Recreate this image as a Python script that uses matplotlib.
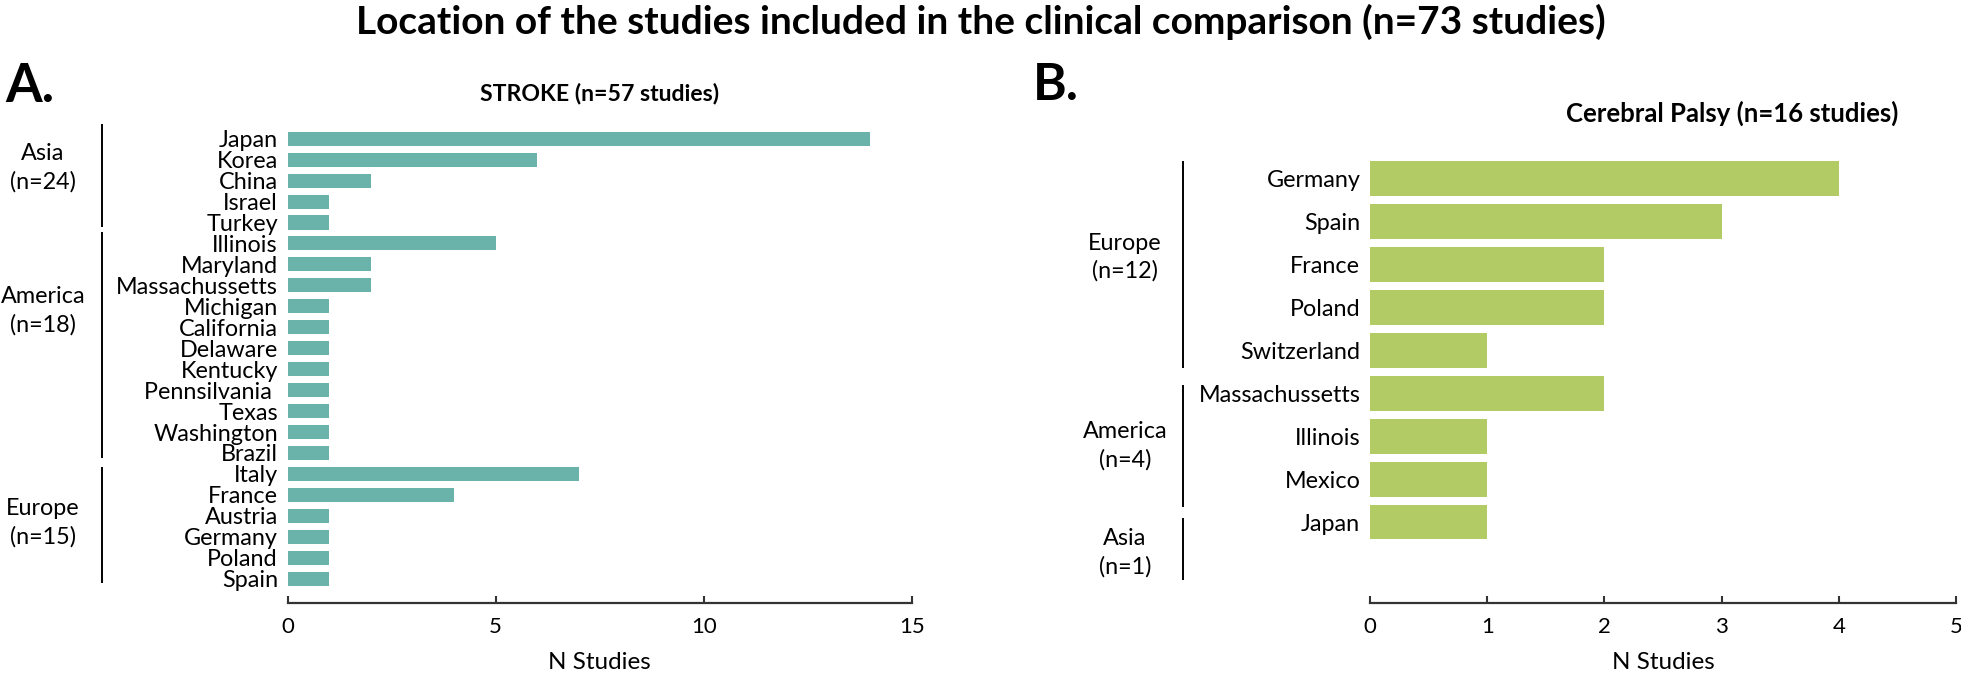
import matplotlib
matplotlib.use("Agg")
import matplotlib.pyplot as plt
import matplotlib.transforms as mtransforms

plt.rcParams['font.family'] = ['Lato', 'DejaVu Sans']

# ---------------- data ----------------
stroke_countries = ["Japan", "Korea", "China", "Israel", "Turkey",
                    "Illinois", "Maryland", "Massachussetts", "Michigan", "California",
                    "Delaware", "Kentucky", "Pennsilvania ", "Texas", "Washington", "Brazil",
                    "Italy", "France", "Austria", "Germany", "Poland", "Spain"]
stroke_values = [14, 6, 2, 1, 1,
                 5, 2, 2, 1, 1, 1, 1, 1, 1, 1, 1,
                 7, 4, 1, 1, 1, 1]
stroke_groups = ["Asia\n(n=24)", "America\n(n=18)", "Europe\n(n=15)"]

cp_countries = ["Germany", "Spain", "France", "Poland", "Switzerland",
                "Massachussetts", "Illinois", "Mexico", "Japan"]
cp_values = [4, 3, 2, 2, 1, 2, 1, 1, 1]
cp_groups = ["Europe\n(n=12)", "America\n(n=4)", "Asia\n(n=1)"]

stroke_ticks = [0, 5, 10, 15]
cp_ticks = [0, 1, 2, 3, 4, 5]

# ---------------- layout ----------------
W, H = 1961, 673
fig = plt.figure(figsize=(W / 100, H / 100), dpi=100)

def fx(px):
    return px / W

def fy(py):
    return 1 - py / H

TEAL = "#6ab3aa"
GREEN = "#b3cb65"
AX_COL = "#333333"

def setup_axis(ax, ticks):
    for s in ("top", "right", "left"):
        ax.spines[s].set_visible(False)
    ax.spines["bottom"].set_color(AX_COL)
    ax.spines["bottom"].set_linewidth(1.6)
    ax.set_xticks(ticks)
    ax.set_xlim(ticks[0], ticks[-1])
    ax.tick_params(axis="x", direction="in", length=5, width=1.5, color=AX_COL,
                   labelsize=16, pad=10)
    ax.tick_params(axis="y", length=0, labelsize=16.8, pad=7)
    ax.set_xlabel("N Studies", fontsize=17.5, labelpad=11)

# Left panel (stroke)
axL = fig.add_axes([fx(287.7), fy(603), fx(911.7 - 287.7), (603 - 128.2) / H])
yL = list(range(len(stroke_countries)))
axL.barh(yL, stroke_values, height=0.67, color=TEAL)
axL.set_yticks(yL)
axL.set_yticklabels(stroke_countries)
axL.set_ylim(22.16, -0.5)
setup_axis(axL, stroke_ticks)

# Right panel (cerebral palsy)
axR = fig.add_axes([fx(1370), fy(603.3), fx(1956 - 1370), (603.3 - 157.2) / H])
yR = list(range(len(cp_countries)))
axR.barh(yR, cp_values, height=0.80, color=GREEN)
axR.set_yticks(yR)
axR.set_yticklabels(cp_countries)
axR.set_ylim(9.886, -0.5)
setup_axis(axR, cp_ticks)

# Group brackets and labels (x in figure fraction, y in data units)
def groups(ax, labels, spans, label_y, line_x, text_x):
    tr = mtransforms.blended_transform_factory(fig.transFigure, ax.transData)
    for lab, (y0, y1), ly in zip(labels, spans, label_y):
        ax.plot([line_x, line_x], [y0, y1], transform=tr, color="black",
                lw=1.4, clip_on=False, solid_capstyle="butt")
        ax.text(text_x, ly, lab, transform=tr, ha="center", va="center",
                fontsize=16.8, linespacing=1.4)

groups(axL, stroke_groups,
       [(-0.70, 4.21), (4.45, 15.24), (15.67, 21.21)],
       [1.41, 8.22, 18.31], fx(101.5), fx(43))
groups(axR, cp_groups,
       [(-0.40, 4.41), (4.80, 7.64), (7.90, 9.35)],
       [1.83, 6.22, 8.70], fx(1183), fx(1125))

# Titles
fig.text(0.5, fy(22), "Location of the studies included in the clinical comparison (n=73 studies)",
         ha="center", va="center", fontsize=28, fontweight="bold")
fig.text(fx(600), fy(94), "STROKE (n=57 studies)", ha="center", va="center",
         fontsize=16.6, fontweight="bold")
fig.text(fx(1732), fy(113), "Cerebral Palsy (n=16 studies)", ha="center", va="center",
         fontsize=18.5, fontweight="bold")
fig.text(fx(5), fy(87), "A.", ha="left", va="center", fontsize=38, fontweight="bold")
fig.text(fx(1033), fy(85), "B.", ha="left", va="center", fontsize=37, fontweight="bold")

fig.savefig("out.png", dpi=100)
